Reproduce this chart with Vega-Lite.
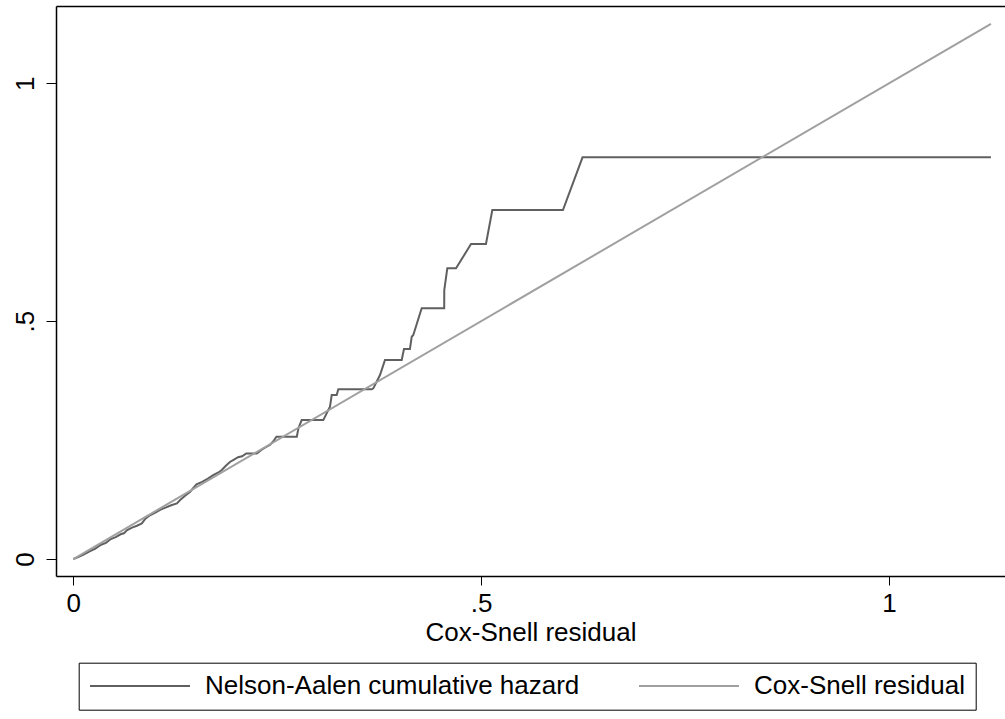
{
  "$schema": "https://vega.github.io/schema/vega-lite/v6.json",
  "width": 949,
  "height": 570,
  "autosize": {"type": "none"},
  "padding": {"left": 56, "top": 6, "right": 0, "bottom": 143},
  "background": "white",
  "config": {
    "view": {"stroke": null},
    "font": "Liberation Sans",
    "axis": {
      "grid": false,
      "domainColor": "black",
      "domainWidth": 1.5,
      "tickColor": "black",
      "tickWidth": 1,
      "labelColor": "black",
      "labelFont": "Liberation Sans",
      "labelFontSize": 26,
      "labelOverlap": false,
      "labelFlush": false,
      "titleFont": "Liberation Sans",
      "titleFontSize": 26,
      "titleFontWeight": "normal",
      "titleColor": "black"
    }
  },
  "datasets": {
    "na": [
      {"series": "Nelson-Aalen cumulative hazard", "x": 0.0, "y": 0.0},
      {"series": "Nelson-Aalen cumulative hazard", "x": 0.006, "y": 0.004},
      {"series": "Nelson-Aalen cumulative hazard", "x": 0.012, "y": 0.009},
      {"series": "Nelson-Aalen cumulative hazard", "x": 0.020, "y": 0.016},
      {"series": "Nelson-Aalen cumulative hazard", "x": 0.027, "y": 0.022},
      {"series": "Nelson-Aalen cumulative hazard", "x": 0.034, "y": 0.030},
      {"series": "Nelson-Aalen cumulative hazard", "x": 0.040, "y": 0.034},
      {"series": "Nelson-Aalen cumulative hazard", "x": 0.046, "y": 0.042},
      {"series": "Nelson-Aalen cumulative hazard", "x": 0.052, "y": 0.046},
      {"series": "Nelson-Aalen cumulative hazard", "x": 0.058, "y": 0.052},
      {"series": "Nelson-Aalen cumulative hazard", "x": 0.062, "y": 0.054},
      {"series": "Nelson-Aalen cumulative hazard", "x": 0.066, "y": 0.061},
      {"series": "Nelson-Aalen cumulative hazard", "x": 0.072, "y": 0.066},
      {"series": "Nelson-Aalen cumulative hazard", "x": 0.078, "y": 0.070},
      {"series": "Nelson-Aalen cumulative hazard", "x": 0.084, "y": 0.075},
      {"series": "Nelson-Aalen cumulative hazard", "x": 0.088, "y": 0.084},
      {"series": "Nelson-Aalen cumulative hazard", "x": 0.094, "y": 0.092},
      {"series": "Nelson-Aalen cumulative hazard", "x": 0.100, "y": 0.097},
      {"series": "Nelson-Aalen cumulative hazard", "x": 0.107, "y": 0.104},
      {"series": "Nelson-Aalen cumulative hazard", "x": 0.113, "y": 0.108},
      {"series": "Nelson-Aalen cumulative hazard", "x": 0.120, "y": 0.113},
      {"series": "Nelson-Aalen cumulative hazard", "x": 0.127, "y": 0.117},
      {"series": "Nelson-Aalen cumulative hazard", "x": 0.131, "y": 0.124},
      {"series": "Nelson-Aalen cumulative hazard", "x": 0.137, "y": 0.133},
      {"series": "Nelson-Aalen cumulative hazard", "x": 0.143, "y": 0.141},
      {"series": "Nelson-Aalen cumulative hazard", "x": 0.151, "y": 0.157},
      {"series": "Nelson-Aalen cumulative hazard", "x": 0.158, "y": 0.162},
      {"series": "Nelson-Aalen cumulative hazard", "x": 0.165, "y": 0.169},
      {"series": "Nelson-Aalen cumulative hazard", "x": 0.172, "y": 0.177},
      {"series": "Nelson-Aalen cumulative hazard", "x": 0.178, "y": 0.182},
      {"series": "Nelson-Aalen cumulative hazard", "x": 0.182, "y": 0.187},
      {"series": "Nelson-Aalen cumulative hazard", "x": 0.187, "y": 0.196},
      {"series": "Nelson-Aalen cumulative hazard", "x": 0.192, "y": 0.204},
      {"series": "Nelson-Aalen cumulative hazard", "x": 0.197, "y": 0.209},
      {"series": "Nelson-Aalen cumulative hazard", "x": 0.202, "y": 0.214},
      {"series": "Nelson-Aalen cumulative hazard", "x": 0.207, "y": 0.216},
      {"series": "Nelson-Aalen cumulative hazard", "x": 0.212, "y": 0.222},
      {"series": "Nelson-Aalen cumulative hazard", "x": 0.225, "y": 0.222},
      {"series": "Nelson-Aalen cumulative hazard", "x": 0.231, "y": 0.230},
      {"series": "Nelson-Aalen cumulative hazard", "x": 0.237, "y": 0.236},
      {"series": "Nelson-Aalen cumulative hazard", "x": 0.241, "y": 0.240},
      {"series": "Nelson-Aalen cumulative hazard", "x": 0.245, "y": 0.247},
      {"series": "Nelson-Aalen cumulative hazard", "x": 0.249, "y": 0.257},
      {"series": "Nelson-Aalen cumulative hazard", "x": 0.274, "y": 0.257},
      {"series": "Nelson-Aalen cumulative hazard", "x": 0.276, "y": 0.275},
      {"series": "Nelson-Aalen cumulative hazard", "x": 0.280, "y": 0.292},
      {"series": "Nelson-Aalen cumulative hazard", "x": 0.3065, "y": 0.292},
      {"series": "Nelson-Aalen cumulative hazard", "x": 0.3126, "y": 0.3132},
      {"series": "Nelson-Aalen cumulative hazard", "x": 0.3147, "y": 0.3202},
      {"series": "Nelson-Aalen cumulative hazard", "x": 0.3168, "y": 0.3448},
      {"series": "Nelson-Aalen cumulative hazard", "x": 0.3229, "y": 0.3448},
      {"series": "Nelson-Aalen cumulative hazard", "x": 0.3249, "y": 0.3567},
      {"series": "Nelson-Aalen cumulative hazard", "x": 0.3658, "y": 0.3567},
      {"series": "Nelson-Aalen cumulative hazard", "x": 0.3678, "y": 0.3588},
      {"series": "Nelson-Aalen cumulative hazard", "x": 0.376, "y": 0.3868},
      {"series": "Nelson-Aalen cumulative hazard", "x": 0.3821, "y": 0.4183},
      {"series": "Nelson-Aalen cumulative hazard", "x": 0.4026, "y": 0.4183},
      {"series": "Nelson-Aalen cumulative hazard", "x": 0.4054, "y": 0.4415},
      {"series": "Nelson-Aalen cumulative hazard", "x": 0.4127, "y": 0.4415},
      {"series": "Nelson-Aalen cumulative hazard", "x": 0.4149, "y": 0.4673},
      {"series": "Nelson-Aalen cumulative hazard", "x": 0.4168, "y": 0.4709},
      {"series": "Nelson-Aalen cumulative hazard", "x": 0.4271, "y": 0.527},
      {"series": "Nelson-Aalen cumulative hazard", "x": 0.4547, "y": 0.527},
      {"series": "Nelson-Aalen cumulative hazard", "x": 0.4548, "y": 0.5655},
      {"series": "Nelson-Aalen cumulative hazard", "x": 0.4585, "y": 0.6111},
      {"series": "Nelson-Aalen cumulative hazard", "x": 0.4692, "y": 0.6111},
      {"series": "Nelson-Aalen cumulative hazard", "x": 0.4876, "y": 0.6622},
      {"series": "Nelson-Aalen cumulative hazard", "x": 0.5059, "y": 0.6622},
      {"series": "Nelson-Aalen cumulative hazard", "x": 0.5137, "y": 0.7337},
      {"series": "Nelson-Aalen cumulative hazard", "x": 0.6003, "y": 0.7337},
      {"series": "Nelson-Aalen cumulative hazard", "x": 0.6243, "y": 0.8445},
      {"series": "Nelson-Aalen cumulative hazard", "x": 1.125, "y": 0.8445}
    ],
    "cs": [
      {"series": "Cox-Snell residual", "x": 0.0, "y": 0.0},
      {"series": "Cox-Snell residual", "x": 1.125, "y": 1.125}
    ]
  },
  "layer": [
    {
      "data": {"name": "na"},
      "mark": {"type": "line", "strokeWidth": 2},
      "encoding": {
        "x": {
          "field": "x", "type": "quantitative",
          "scale": {"domain": [-0.0212, 1.1422], "nice": false, "zero": false},
          "axis": {
            "orient": "bottom",
            "values": [0, 0.5, 1],
            "labelExpr": "datum.value == 0.5 ? '.5' : (datum.value == 0 ? '0' : '1')",
            "tickSize": 9,
            "labelPadding": 5,
            "title": "Cox-Snell residual",
            "titlePadding": 3
          }
        },
        "y": {
          "field": "y", "type": "quantitative",
          "scale": {"domain": [-0.0357, 1.1625], "nice": false, "zero": false},
          "axis": {
            "orient": "left",
            "values": [0, 0.5, 1],
            "labelExpr": "datum.value == 0.5 ? '.5' : (datum.value == 0 ? '0' : '1')",
            "labelAngle": -90,
            "labelAlign": "center",
            "labelBaseline": "alphabetic",
            "labelPadding": 12.7,
            "tickSize": 10,
            "title": null
          }
        },
        "color": {
          "field": "series", "type": "nominal",
          "scale": {
            "domain": ["Nelson-Aalen cumulative hazard", "Cox-Snell residual"],
            "range": ["#606060", "#a0a0a0"]
          },
          "legend": {
            "title": null,
            "orient": "none",
            "legendX": 22.7,
            "legendY": 656.7,
            "direction": "horizontal",
            "columns": 2,
            "symbolType": "stroke",
            "symbolSize": 10000,
            "symbolStrokeWidth": 2,
            "clipHeight": 26,
            "labelFont": "Liberation Sans",
            "labelFontSize": 26,
            "labelColor": "black",
            "labelOffset": 14,
            "labelLimit": 800,
            "columnPadding": 58,
            "padding": 10.3,
            "strokeColor": "black",
            "fillColor": "white"
          }
        }
      }
    },
    {
      "data": {"name": "cs"},
      "mark": {"type": "line", "strokeWidth": 2},
      "encoding": {
        "x": {
          "field": "x", "type": "quantitative",
          "axis": {"orient": "top", "labels": false, "ticks": false, "title": null, "domain": true}
        },
        "y": {"field": "y", "type": "quantitative"},
        "color": {"field": "series", "type": "nominal"}
      }
    }
  ],
  "resolve": {"axis": {"x": "independent"}}
}
